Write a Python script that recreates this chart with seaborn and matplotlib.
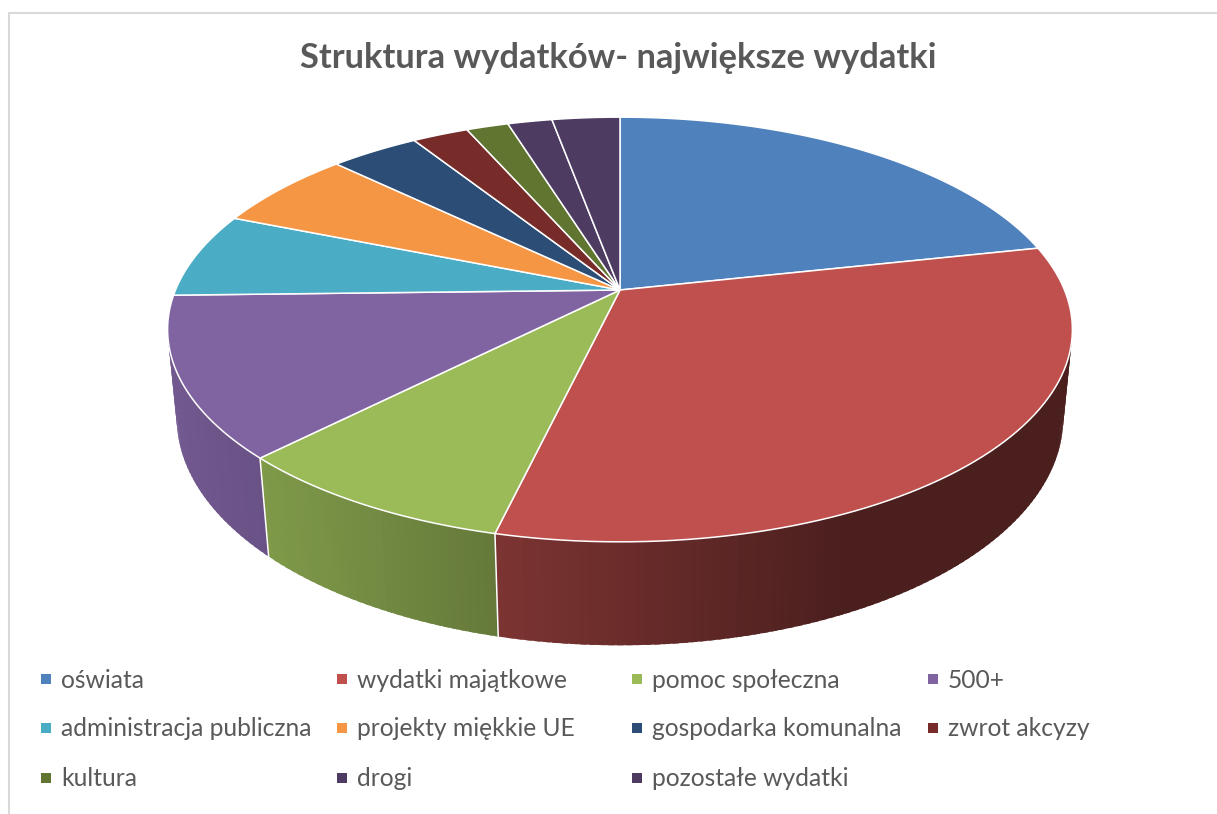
# 3D style pie of budget spending, seaborn theme with matplotlib pie angles
import numpy as np
import matplotlib
matplotlib.use('Agg')
import matplotlib.pyplot as plt
import seaborn as sns

# data
categories = ['oświata', 'wydatki majątkowe', 'pomoc społeczna', '500+',
              'administracja publiczna', 'projekty miękkie UE', 'gospodarka komunalna', 'zwrot akcyzy',
              'kultura', 'drogi', 'pozostałe wydatki']
shares = [21.6, 32.1, 8.7, 12.2, 6.5, 6.1, 3.8, 2.4, 1.8, 1.9, 2.9]
colors = ['#4F81BD', '#BF504D', '#9BBB59', '#8064A2', '#4BACC6', '#F59644',
          '#2C4D75', '#772C2A', '#5F7530', '#4D3B62', '#4D3B62']
title = 'Struktura wydatków- największe wydatki'

sns.set_theme(style='white')
plt.rcParams['font.family'] = ['Lato', 'DejaVu Sans']

fig = plt.figure(figsize=(12.17, 8.14), dpi=100)
ax = fig.add_axes([0, 0, 1, 1])

# pie gives the angle of each slice, they get redrawn in perspective below
wedges = ax.pie(shares, startangle=90, counterclock=False, colors=colors)[0]
angles = [(w.theta1, w.theta2) for w in wedges]
for w in wedges:
    w.remove()

ax.set_aspect('auto')
ax.set_xlim(0, 1217)
ax.set_ylim(814, 0)
ax.set_axis_off()

# perspective of the pie, fitted on the picture in pixels
cx, cy = 620, 290


def top_rim(t):
    u, v = np.cos(np.radians(t)), np.sin(np.radians(t))
    w = 1 + 0.186 * v
    return cx + 444.5 * u / w, cy - 205 * v / w


def bottom_rim(t):
    u, v = np.cos(np.radians(t)), np.sin(np.radians(t))
    w = 1 + 0.18 * v
    return cx + 436 * u / w, cy + 87 - 220 * v / w


def shade(x):
    return np.maximum(0.39, 0.65 - 0.00073 * (x - 497))


# side wall, strips of one degree for the gradient, each one runs a bit under the next
for (t1, t2), color in zip(angles, colors):
    base = np.array(matplotlib.colors.to_rgb(color))
    steps = np.arange(t1, t2 + 1, 1.0)
    steps[-1] = t2
    for a, b in zip(steps[:-1], steps[1:]):
        if np.sin(np.radians(a)) > 0.02 and np.sin(np.radians(b)) > 0.02:
            continue
        over = min(b + 0.7, t2)
        xa, ya = top_rim(a)
        xb, yb = top_rim(over)
        xc, yc = bottom_rim(over)
        xd, yd = bottom_rim(a)
        strip = base * shade((xa + xb) / 2)
        ax.fill([xa, xb, xc, xd], [ya, yb, yc, yd], color=strip, lw=0, zorder=2)

# white lines between the wall parts
for t1, t2 in angles:
    if np.sin(np.radians(t1)) < 0:
        xa, ya = top_rim(t1)
        xb, yb = bottom_rim(t1)
        ax.plot([xa, xb], [ya, yb], color='white', lw=1.1, zorder=3)

# top of the pie
for (t1, t2), color in zip(angles, colors):
    arc = np.linspace(t1, t2, 80)
    xs, ys = top_rim(arc)
    ax.fill(np.r_[cx, xs], np.r_[cy, ys], facecolor=color, edgecolor='white', lw=1.1, zorder=4)

# legend, filled row by row
col_x = [46, 342, 637, 933]
row_y = [679, 728, 778]
legend_x = [col_x[i % 4] for i in range(len(categories))]
legend_y = [row_y[i // 4] for i in range(len(categories))]
sns.scatterplot(x=legend_x, y=legend_y, hue=categories, palette=colors, hue_order=categories,
                marker='s', s=62, linewidth=0, legend=False, ax=ax, zorder=5)
for x, y, name in zip(legend_x, legend_y, categories):
    ax.text(x + 15, y + 1, name, fontsize=17.7, color='#595959', va='center', ha='left')

ax.text(618, 58, title, fontsize=24.8, fontweight='bold', color='#595959', ha='center', va='center')

# chart frame, only left and top are in the crop
ax.plot([9, 9, 1217], [814, 13, 13], color='#D9D9D9', lw=1.5, zorder=1)

ax.set_xlim(0, 1217)
ax.set_ylim(814, 0)
fig.savefig('out.png', dpi=100)
plt.close()
